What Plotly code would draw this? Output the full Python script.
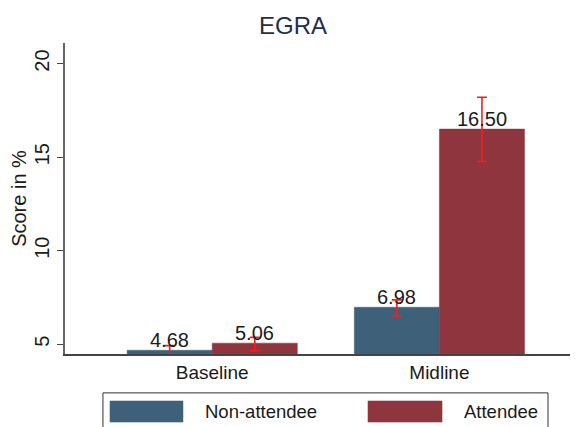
import plotly.graph_objects as go

# data
rounds = ["Baseline", "Midline"]
non_attendee = [4.68, 6.98]
attendee = [5.06, 16.50]
non_attendee_lo = [4.45, 6.52]
non_attendee_hi = [4.93, 7.37]
attendee_lo = [4.66, 14.77]
attendee_hi = [5.37, 18.20]
y_ticks = [5, 10, 15, 20]

FONT = "Liberation Sans, Arial, sans-serif"
BLUE = "#3e6179"
RED = "#8f353d"


def err(vals, lo, hi):
    return dict(
        type="data",
        symmetric=False,
        array=[h - v for v, h in zip(vals, hi)],
        arrayminus=[v - l for v, l in zip(vals, lo)],
        color="#ff1a1a",
        thickness=1.6,
        width=5,
    )


fig = go.Figure()
series = [
    ("Non-attendee", non_attendee, non_attendee_lo, non_attendee_hi, BLUE, -42.5),
    ("Attendee", attendee, attendee_lo, attendee_hi, RED, 42.5),
]
for name, vals, lo, hi, col, shift in series:
    fig.add_trace(
        go.Bar(
            x=rounds,
            y=vals,
            name=name,
            marker=dict(color=col, line=dict(color=col, width=0.5)),
            error_y=err(vals, lo, hi),
            showlegend=False,
        )
    )
    # value labels sitting right on the bar tops (Stata blabel)
    for r, v in zip(rounds, vals):
        fig.add_annotation(x=r, y=v, text=f"{v:.2f}", showarrow=False, xshift=shift,
                           yanchor="bottom", yshift=-3,
                           font=dict(size=20, color="#1a1a1a", family=FONT))

# hand-drawn legend box (Stata style, big swatches)
fig.add_shape(type="rect", xref="paper", yref="paper", x0=0.074, x1=0.9415, y0=-0.27, y1=-0.125,
              line=dict(color="#333333", width=1), fillcolor="white", layer="below")
for (x0, x1, tx, label, col) in [
    (0.0877, 0.230, 0.269, "Non-attendee", BLUE),
    (0.5906, 0.735, 0.774, "Attendee", RED),
]:
    fig.add_shape(type="rect", xref="paper", yref="paper", x0=x0, x1=x1, y0=-0.219, y1=-0.151,
                  line=dict(color=col, width=0.5), fillcolor=col)
    fig.add_annotation(xref="paper", yref="paper", x=tx, y=-0.185, text=label, showarrow=False,
                       xanchor="left", yanchor="middle", font=dict(size=18.5, color="#1a1a1a", family=FONT))

# page has an 8px body margin, so the figure is sized/offset to land where the original did
fig.update_layout(
    width=570,
    height=419,
    margin=dict(l=57, r=0, t=35, b=73),
    paper_bgcolor="white",
    plot_bgcolor="white",
    barmode="group",
    bargap=0.251,
    bargroupgap=0,
    font=dict(family=FONT, color="#1a1a1a"),
    title=dict(text="EGRA", x=0.5, xref="container", xanchor="center", y=0.958, yanchor="middle",
               font=dict(size=24, color="#1f2d4e", family=FONT)),
    xaxis=dict(
        range=[-0.648, 1.61],
        automargin=False,
        showline=True,
        linecolor="#444444",
        linewidth=1.5,
        ticks="",
        tickfont=dict(size=19, color="#1a1a1a"),
        showgrid=False,
    ),
    yaxis=dict(
        range=[4.48, 21.1],
        automargin=False,
        tickvals=y_ticks,
        tickangle=-90,
        ticks="outside",
        ticklen=6,
        tickcolor="#444444",
        showline=True,
        linecolor="#666666",
        linewidth=1.5,
        showgrid=False,
        zeroline=False,
        tickfont=dict(size=20, color="#1a1a1a"),
        title=dict(text="Score in %", font=dict(size=20, color="#1a1a1a"), standoff=1),
    ),
)

fig.write_html("out.html")
